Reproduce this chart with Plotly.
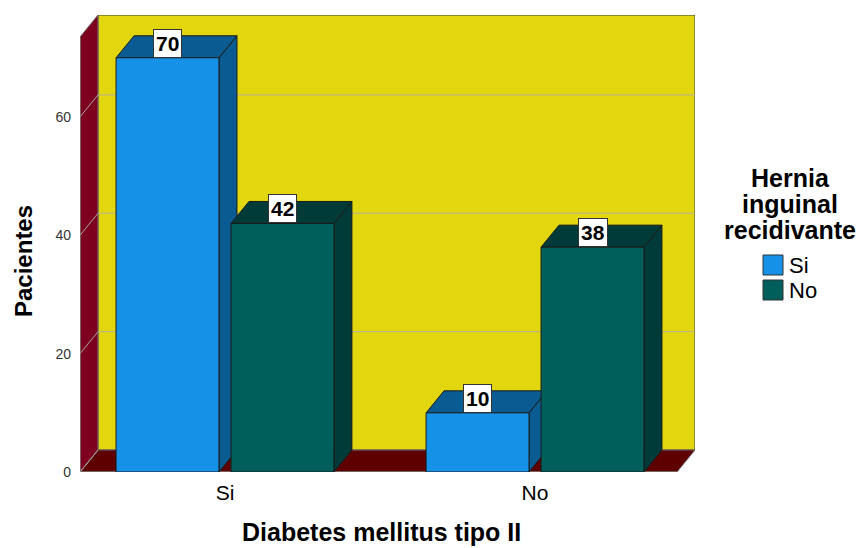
import plotly.graph_objects as go

# Data
categories = ["Si", "No"]            # Diabetes mellitus tipo II
series_names = ["Si", "No"]          # Hernia inguinal recidivante
hernia_si = [70, 10]
hernia_no = [42, 38]
y_ticks = [0, 20, 40, 60]

series_values = [hernia_si, hernia_no]
front_colors = ["#1592e8", "#005e5b"]
dark_colors = ["#0b5b93", "#003b39"]

# Pseudo-3D geometry (axis units)
x_lo, x_hi = -0.4677, 1.516
y_hi = 77.23
bar_w = 0.332
half_gap = 0.0194
offsets = [-(half_gap + bar_w), half_gap]
dx, dy = 0.058, 3.72
wall_h = y_hi - dy

FONT = "Liberation Sans, Arial, sans-serif"
EDGE = "#1a1a1a"
WALL_EDGE = "#707070"


def poly(points, fill, line_color, width=1):
    path = "M " + " L ".join(f"{px},{py}" for px, py in points) + " Z"
    return dict(type="path", path=path, xref="x", yref="y", layer="below",
                fillcolor=fill, line=dict(color=line_color, width=width))


def seg(p0, p1, color, width=1):
    return dict(type="line", x0=p0[0], y0=p0[1], x1=p1[0], y1=p1[1],
                xref="x", yref="y", layer="below",
                line=dict(color=color, width=width))


shapes = []
# back wall
shapes.append(poly([(x_lo + dx, dy), (x_hi, dy), (x_hi, y_hi), (x_lo + dx, y_hi)],
                   "#e2d70f", "#3a3a3a"))
# floor
shapes.append(poly([(x_lo, 0), (x_hi - dx, 0), (x_hi, dy), (x_lo + dx, dy)],
                   "#5e0000", WALL_EDGE))
# left wall
shapes.append(poly([(x_lo, 0), (x_lo + dx, dy), (x_lo + dx, y_hi), (x_lo, wall_h)],
                   "#7d001f", WALL_EDGE))
# gridlines on back wall and left wall
for v in y_ticks:
    if v > 0:
        shapes.append(seg((x_lo + dx, v + dy), (x_hi, v + dy), "#b5b29c"))
    shapes.append(seg((x_lo, v), (x_lo + dx, v + dy), "#a8a8a8"))
# floor front edge and left wall front edge
shapes.append(seg((x_lo, 0), (x_hi - dx, 0), "#8a8a8a"))
shapes.append(seg((x_lo, 0), (x_lo, wall_h), "#8a8a8a"))

# top and side faces of each bar, drawn left to right
annotations = []
bars = []
for ci in range(len(categories)):
    for si in range(len(series_names)):
        bars.append((ci + offsets[si], series_values[si][ci], si))
bars.sort(key=lambda b: b[0])
for x0, v, si in bars:
    x1 = x0 + bar_w
    shapes.append(poly([(x1, 0), (x1 + dx, dy), (x1 + dx, v + dy), (x1, v)],
                       dark_colors[si], EDGE))
    shapes.append(poly([(x0, v), (x1, v), (x1 + dx, v + dy), (x0 + dx, v + dy)],
                       dark_colors[si], EDGE))
    annotations.append(dict(x=x0 + bar_w / 2, y=v, xref="x", yref="y",
                            text=f"<b>{v}</b>", showarrow=False,
                            xanchor="center", yanchor="bottom",
                            font=dict(family=FONT, size=21, color="#000000"),
                            bgcolor="#ffffff", bordercolor="#333333",
                            borderwidth=1, borderpad=2))

fig = go.Figure()
# front faces of bars
for si, name in enumerate(series_names):
    fig.add_trace(go.Bar(
        x=[0, 1], y=series_values[si], name=name,
        offset=offsets[si], width=bar_w,
        marker=dict(color=front_colors[si], line=dict(color=EDGE, width=1)),
        showlegend=False, hoverinfo="skip",
    ))

# plot area in pixels: x 80..695, y 15..472
def px_x(p):
    return (p - 80) / 615


def px_y(p):
    return (472 - p) / 457


# axis titles
annotations.append(dict(x=px_x(381), y=px_y(532), xref="paper", yref="paper",
                        text="<b>Diabetes mellitus tipo II</b>", showarrow=False,
                        xanchor="center", yanchor="middle", borderpad=0,
                        font=dict(family=FONT, size=25, color="#000000")))
annotations.append(dict(x=px_x(23), y=px_y(261), xref="paper", yref="paper",
                        text="<b>Pacientes</b>", showarrow=False, textangle=-90,
                        xanchor="center", yanchor="middle",
                        font=dict(family=FONT, size=24, color="#000000")))

# legend
for line, cy in zip(["Hernia", "inguinal", "recidivante"], [178, 204, 230]):
    annotations.append(dict(x=px_x(790), y=px_y(cy), xref="paper", yref="paper",
                            text=f"<b>{line}</b>", showarrow=False,
                            xanchor="center", yanchor="middle",
                            font=dict(family=FONT, size=25, color="#000000")))
for si, (name, cy) in enumerate(zip(series_names, [265, 290])):
    shapes.append(dict(type="rect", xref="paper", yref="paper",
                       x0=px_x(763), x1=px_x(783), y0=px_y(cy - 10), y1=px_y(cy + 10),
                       fillcolor=front_colors[si], line=dict(color="#333333", width=1)))
    annotations.append(dict(x=px_x(787), y=px_y(cy), xref="paper", yref="paper",
                            text=name, showarrow=False,
                            xanchor="left", yanchor="middle",
                            font=dict(family=FONT, size=22, color="#000000")))

fig.update_layout(
    width=865, height=548,
    margin=dict(l=80, r=170, t=15, b=76),
    paper_bgcolor="#ffffff", plot_bgcolor="#ffffff",
    barmode="overlay",
    shapes=shapes, annotations=annotations,
    showlegend=False,
    xaxis=dict(range=[x_lo, x_hi], tickvals=[0, 1], ticktext=categories,
               showgrid=False, zeroline=False, showline=False, ticks="",
               ticklabelstandoff=6,
               tickfont=dict(family=FONT, size=21, color="#000000")),
    yaxis=dict(range=[0, y_hi], tickvals=y_ticks, showgrid=False, zeroline=False,
               showline=False, ticks="", ticklabelstandoff=8,
               tickfont=dict(family=FONT, size=14, color="#333333")),
)

fig.write_html("out.html")
